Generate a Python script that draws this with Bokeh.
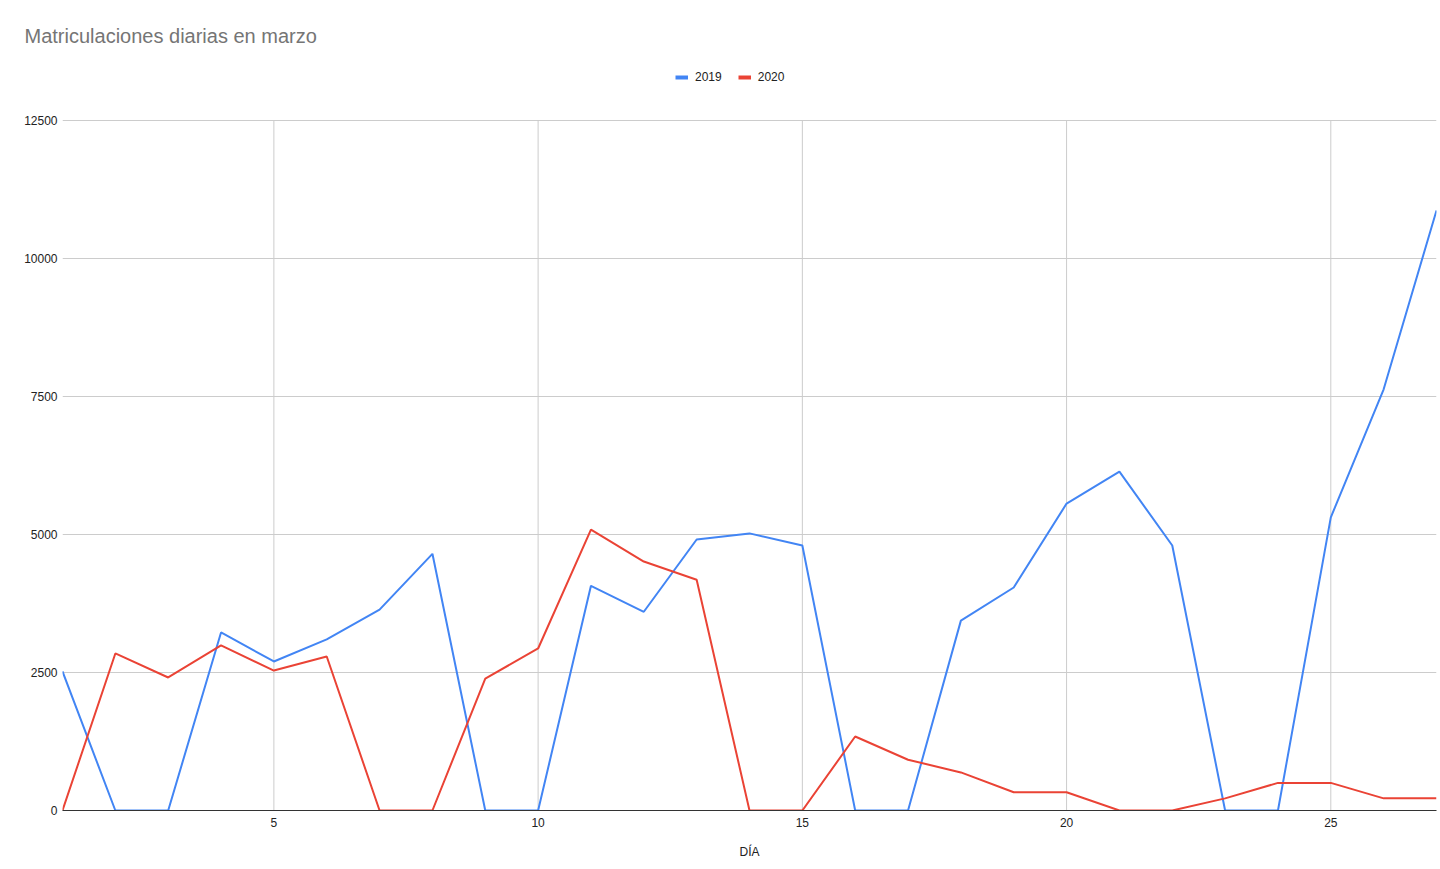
from bokeh.plotting import figure
from bokeh.models import Range1d, FixedTicker, Legend, LegendItem
from bokeh.embed import file_html
from bokeh.resources import INLINE

days = list(range(1, 28))
y2019 = [2520, 0, 0, 3225, 2700, 3100, 3640, 4650, 0, 0, 4070, 3600, 4910, 5020, 4800,
         0, 0, 3440, 4040, 5560, 6140, 4800, 0, 0, 5310, 7630, 10870]
y2020 = [0, 2845, 2410, 2990, 2535, 2790, 0, 0, 2390, 2935, 5090, 4510, 4180, 0, 0,
         1340, 920, 690, 330, 330, 0, 0, 220, 500, 500, 220, 220]
x_ticks = [5, 10, 15, 20, 25]
y_ticks = [0, 2500, 5000, 7500, 10000, 12500]
y_max = 12500

BLUE = "#4285F4"
RED = "#EA4335"

# frame extends above the top tick to host the legend (Google Charts style)
p = figure(width=1438, height=861, output_backend="svg", toolbar_location=None,
           x_range=Range1d(1, 27), y_range=Range1d(0, y_max * 742 / 690))
p.min_border_left = 62
p.min_border_right = 2
p.min_border_top = 68
p.min_border_bottom = 51
p.outline_line_color = None
p.background_fill_color = "white"

p.title.text = "Matriculaciones diarias en marzo"
p.title.text_font = "Liberation Sans"
p.title.text_font_size = "20px"
p.title.text_font_style = "normal"
p.title.text_color = "#757575"
p.title.align = "left"
p.title.offset = -38
p.title.standoff = 44

# vertical grid lines limited to the value range
p.segment(x0=x_ticks, y0=[0] * len(x_ticks), x1=x_ticks, y1=[y_max] * len(x_ticks),
          line_color="#cccccc", line_width=1)

r1 = p.line(days, y2019, line_color=BLUE, line_width=2)
r2 = p.line(days, y2020, line_color=RED, line_width=2)

# legend swatches (thicker, like the reference); no visible data
nan = float("nan")
l1 = p.line(x=[days[0]], y=[nan], line_color=BLUE, line_width=4)
l2 = p.line(x=[days[0]], y=[nan], line_color=RED, line_width=4)

legend = Legend(items=[LegendItem(label="2019", renderers=[l1]),
                       LegendItem(label="2020", renderers=[l2])],
                orientation="horizontal", location=(613, 726),
                label_text_font="Liberation Sans", label_text_font_size="12px",
                label_text_color="#222222", glyph_width=13, glyph_height=12,
                spacing=16, border_line_color=None, background_fill_alpha=0,
                padding=0, margin=0, label_standoff=7, label_height=12)
p.add_layout(legend, "center")

p.xaxis.ticker = FixedTicker(ticks=x_ticks)
p.yaxis.ticker = FixedTicker(ticks=y_ticks)
p.xaxis.axis_label = "DÍA"
p.xaxis.axis_label_text_font = "Liberation Sans"
p.xaxis.axis_label_text_font_size = "12px"
p.xaxis.axis_label_text_font_style = "normal"
p.xaxis.axis_label_text_color = "#222222"
p.xaxis.axis_label_standoff = 15
for ax in (p.xaxis, p.yaxis):
    ax.major_label_text_font = "Liberation Sans"
    ax.major_label_text_font_size = "12px"
    ax.major_label_text_color = "#222222"
    ax.major_tick_line_color = None
    ax.minor_tick_line_color = None
    ax.major_tick_out = 0
    ax.major_tick_in = 0
    ax.minor_tick_out = 0
    ax.minor_tick_in = 0
p.xaxis.axis_line_color = "#333333"
p.xaxis.axis_line_width = 1
p.yaxis.axis_line_color = None
p.xaxis.major_label_standoff = 7
p.yaxis.major_label_standoff = 5

p.xgrid.visible = False
p.ygrid.grid_line_color = "#cccccc"
p.ygrid.ticker = FixedTicker(ticks=y_ticks)

open("out.html", "w").write(file_html(p, INLINE))
